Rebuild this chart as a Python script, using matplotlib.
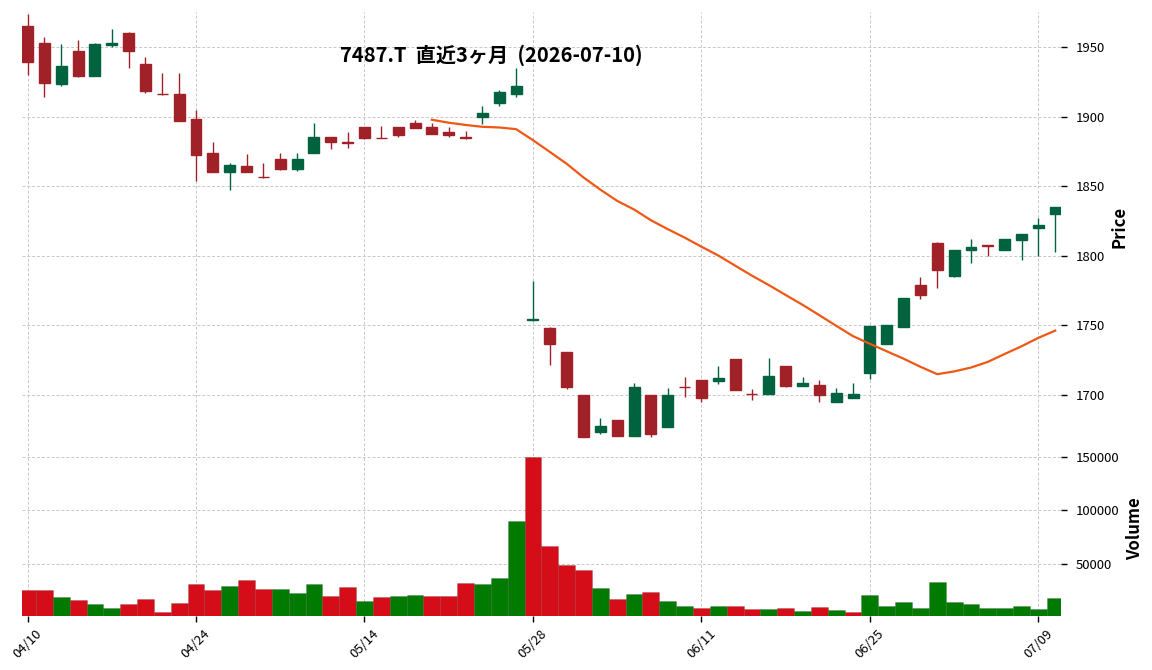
import numpy as np
import pandas as pd
import matplotlib
matplotlib.use('Agg')
import matplotlib.pyplot as plt

plt.rcParams['font.family'] = ['Noto Sans CJK JP', 'DejaVu Sans']

# Datos (7487.T, ultimos 3 meses)
dates = ['2026-04-10', '2026-04-13', '2026-04-14', '2026-04-15', '2026-04-16', '2026-04-17',
         '2026-04-20', '2026-04-21', '2026-04-22', '2026-04-23', '2026-04-24', '2026-04-27',
         '2026-04-28', '2026-04-30', '2026-05-01', '2026-05-07', '2026-05-08', '2026-05-11',
         '2026-05-12', '2026-05-13', '2026-05-14', '2026-05-15', '2026-05-18', '2026-05-19',
         '2026-05-20', '2026-05-21', '2026-05-22', '2026-05-25', '2026-05-26', '2026-05-27',
         '2026-05-28', '2026-05-29', '2026-06-01', '2026-06-02', '2026-06-03', '2026-06-04',
         '2026-06-05', '2026-06-08', '2026-06-09', '2026-06-10', '2026-06-11', '2026-06-12',
         '2026-06-15', '2026-06-16', '2026-06-17', '2026-06-18', '2026-06-19', '2026-06-22',
         '2026-06-23', '2026-06-24', '2026-06-25', '2026-06-26', '2026-06-29', '2026-06-30',
         '2026-07-01', '2026-07-02', '2026-07-03', '2026-07-06', '2026-07-07', '2026-07-08',
         '2026-07-09', '2026-07-10']

opens = [1965.3, 1953.1, 1923.9, 1947.4, 1929.4, 1951.9, 1960.3, 1938.0, 1916.5, 1916.5,
         1898.6, 1874.2, 1860.5, 1864.4, 1856.9, 1869.9, 1862.7, 1874.2, 1885.6, 1881.9,
         1892.3, 1884.7, 1892.8, 1895.7, 1892.8, 1889.0, 1885.4, 1899.5, 1910.0, 1916.7,
         1753.6, 1748.3, 1730.6, 1700.2, 1673.7, 1682.3, 1670.8, 1700.2, 1677.3, 1705.8,
         1710.5, 1710.3, 1725.6, 1701.1, 1700.7, 1720.6, 1706.5, 1707.0, 1695.0, 1697.9,
         1715.8, 1736.6, 1748.8, 1779.4, 1809.6, 1785.9, 1804.1, 1807.6, 1804.3, 1811.3,
         1819.9, 1829.9]
highs = [1973.9, 1957.2, 1952.6, 1955.0, 1952.9, 1962.9, 1960.8, 1942.6, 1931.3, 1931.3,
         1904.8, 1881.8, 1866.7, 1873.2, 1866.7, 1873.9, 1873.9, 1895.5, 1885.6, 1889.0,
         1892.3, 1893.1, 1892.8, 1897.6, 1895.2, 1892.6, 1889.7, 1907.4, 1919.4, 1935.0,
         1781.8, 1748.8, 1731.1, 1700.2, 1683.5, 1682.3, 1708.9, 1700.2, 1705.3, 1712.9,
         1710.5, 1721.1, 1725.6, 1704.1, 1726.8, 1720.6, 1713.2, 1710.5, 1705.3, 1708.9,
         1749.3, 1750.0, 1770.1, 1784.9, 1810.1, 1804.5, 1812.2, 1807.6, 1812.2, 1816.0,
         1827.0, 1835.4]
lows = [1929.9, 1914.1, 1922.0, 1928.9, 1929.4, 1950.0, 1934.7, 1917.0, 1916.0, 1896.7,
        1853.6, 1860.5, 1847.4, 1860.5, 1856.2, 1861.5, 1860.8, 1874.2, 1876.8, 1877.5,
        1884.0, 1884.4, 1885.4, 1891.6, 1887.3, 1885.4, 1884.0, 1894.7, 1907.4, 1914.1,
        1753.1, 1721.8, 1704.1, 1670.1, 1672.3, 1670.3, 1670.8, 1670.1, 1677.3, 1698.8,
        1695.0, 1708.2, 1703.6, 1696.2, 1700.7, 1705.7, 1706.5, 1695.2, 1695.0, 1697.9,
        1711.7, 1736.6, 1748.8, 1769.1, 1777.0, 1784.7, 1795.0, 1800.2, 1804.3, 1797.4,
        1800.2, 1802.9]
closes = [1939.7, 1924.6, 1936.6, 1929.4, 1952.4, 1952.9, 1947.6, 1918.2, 1916.3, 1897.1,
          1872.7, 1860.5, 1865.1, 1860.5, 1856.7, 1862.2, 1869.9, 1885.6, 1882.0, 1881.5,
          1884.5, 1884.4, 1887.1, 1891.6, 1887.3, 1886.6, 1884.5, 1902.9, 1917.5, 1922.3,
          1755.0, 1736.8, 1705.5, 1670.1, 1678.0, 1670.8, 1706.0, 1672.0, 1700.2, 1705.5,
          1698.1, 1712.0, 1703.6, 1700.8, 1713.4, 1706.2, 1708.4, 1700.0, 1701.2, 1700.9,
          1749.3, 1750.0, 1770.1, 1771.8, 1789.7, 1804.5, 1806.5, 1807.4, 1812.2, 1816.0,
          1822.5, 1835.4]
volumes = [25800, 25800, 19200, 16400, 12600, 8800, 12600, 17300, 5000, 13500,
           31400, 25800, 29600, 35200, 26700, 26700, 23000, 31400, 20100, 28600,
           15400, 19200, 20100, 21100, 20100, 20100, 32400, 31400, 37100, 89900,
           149700, 66400, 49400, 44700, 27700, 17300, 22000, 23900, 15400, 10700,
           8800, 10700, 10700, 7900, 7900, 8800, 6000, 9700, 6900, 5000,
           21100, 10700, 14500, 8800, 33300, 14500, 12600, 8800, 8800, 10700,
           7900, 18200]

titulo = '7487.T  直近3ヶ月  (2026-07-10)'
mav = 25

# Colores (estilo charles)
c_up, c_down = '#006340', '#a02128'
v_up, v_down = '#007a00', '#d50d18'
c_mav = '#ef5714'
c_grid = '#c8c8c8'


def graficar():
    df = pd.DataFrame({'Open': opens, 'High': highs, 'Low': lows,
                       'Close': closes, 'Volume': volumes},
                      index=pd.to_datetime(dates))
    x = np.arange(len(df))
    o, h, l, c = df['Open'].values, df['High'].values, df['Low'].values, df['Close'].values

    fig = plt.figure(figsize=(11.52, 6.70), dpi=100)
    ax = fig.add_axes([0.0188, 0.3418, 0.9026, 0.6403])
    axv = fig.add_axes([0.0188, 0.0806, 0.9026, 0.2612], sharex=ax)

    # Velas
    sube = c >= o
    col = np.where(sube, c_up, c_down)
    ax.vlines(x, l, h, colors=col, linewidth=1.0, zorder=3)
    ax.bar(x, np.abs(c - o), bottom=np.minimum(o, c), width=0.65,
           color=col, edgecolor=col, linewidth=1.0, zorder=4)

    # Media movil
    ma = df['Close'].rolling(mav).mean()
    ax.plot(x, ma.values, color=c_mav, linewidth=1.6, zorder=5)

    # Volumen (color segun cierre anterior)
    prev = np.concatenate([[o[0]], c[:-1]])
    vcol = np.where(c >= prev, v_up, v_down)
    axv.bar(x, df['Volume'].values, width=1.0, color=vcol,
            edgecolor='#00000030', linewidth=0.5, zorder=3)

    # Ejes
    ax.set_xlim(-0.35, len(df) - 0.63)
    ax.set_ylim(1667, 1975.3)
    axv.set_ylim(0.3 * df['Volume'].min(), 1.1 * df['Volume'].max())

    ticks = x[::10]
    axv.set_xticks(ticks)
    axv.set_xticklabels([d.strftime('%m/%d') for d in df.index[::10]],
                        rotation=45, fontsize=9.5)
    ax.tick_params(axis='x', which='both', bottom=False, labelbottom=False)
    ax.set_yticks([1700, 1750, 1800, 1850, 1900, 1950])
    axv.set_yticks([50000, 100000, 150000])
    axv.set_yticklabels(['50000', '100000', '150000'])

    for a in (ax, axv):
        for s in a.spines.values():
            s.set_visible(False)
        a.yaxis.tick_right()
        a.yaxis.set_label_position('right')
        a.tick_params(axis='y', length=4, width=1, pad=6, labelsize=9.5)
        a.grid(True, color=c_grid, linestyle=(0, (3, 2)), linewidth=0.7, zorder=0)
        a.set_axisbelow(True)
    axv.tick_params(axis='x', length=4, width=1, pad=4)

    ax.set_ylabel('Price', fontsize=12, fontweight='bold', labelpad=4)
    axv.set_ylabel('Volume', fontsize=12, fontweight='bold', labelpad=5)

    fig.text(0.4262, 0.918, titulo, ha='center', va='center',
             fontsize=14.5, fontweight='bold')

    fig.savefig('out.png', dpi=100)


if __name__ == '__main__':
    graficar()
